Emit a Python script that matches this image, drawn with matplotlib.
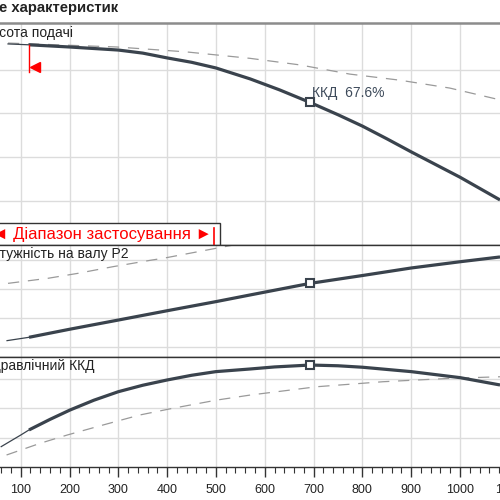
import matplotlib.pyplot as plt
from matplotlib.patches import Rectangle

plt.rcParams['font.family'] = ['Liberation Sans', 'DejaVu Sans']

# flow, m3/h
q_head = [74, 117, 200, 300, 350, 400, 450, 500, 570, 630, 693, 750, 800,
          850, 900, 950, 1000, 1082]
head = [45.9, 45.7, 45.2, 44.5, 43.8, 42.7, 41.7, 40.4, 37.9, 35.4, 32.5,
        29.7, 27.1, 24.2, 21.2, 18.3, 15.4, 10.2]
q_head_ref = [74, 297, 437, 570, 672, 774, 877, 979, 1082]
head_ref = [46.1, 45.2, 44.1, 42.6, 41.1, 39.0, 37.6, 35.8, 33.1]

q_power = [72, 117, 201, 300, 406, 500, 570, 693, 800, 900, 1000, 1082]
power = [44.6, 46.9, 52.5, 58.8, 65.6, 71.5, 76.1, 84.1, 89.5, 94.7, 99.0, 102.3]
q_power_ref = [74, 156, 217, 289, 369, 392, 535, 600]
power_ref = [84.1, 87.6, 91.0, 95.6, 100.2, 101.4, 110.5, 114.5]

q_eff = [60, 100, 117, 160, 201, 250, 300, 350, 400, 450, 500, 570, 620, 693,
         750, 800, 900, 1000, 1082]
eff = [13.9, 21.8, 25.3, 32.5, 38.9, 45.6, 51.4, 55.8, 59.4, 62.6, 65.1, 66.9,
       68.3, 69.6, 69.1, 68.1, 65.1, 61.0, 56.0]
q_eff_ref = [71, 140, 195, 269, 344, 412, 502, 570, 707, 842, 979, 1082]
eff_ref = [8.2, 16.2, 21.8, 28.7, 35.5, 40.1, 45.7, 49.1, 54.8, 58.2, 60.5, 61.6]

q_min = 117
q_max = 496
q_duty = 693
eff_duty_label = 'ККД  67.6%'

curve_color = '#3a434d'
dash_color = '#9a9a9a'
grid_color = '#dcdcdc'

fig = plt.figure(figsize=(5, 5), dpi=100)
left, width = -0.0562, 1.0738
ax1 = fig.add_axes([left, 0.511, width, 0.443])
ax2 = fig.add_axes([left, 0.2866, width, 0.2244])
ax3 = fig.add_axes([left, 0.066, width, 0.2206])

ax1.set_ylim(0, 50.69)
ax1.set_yticks([10, 20, 30, 40])
ax2.set_ylim(33.52, 110.9)
ax2.set_yticks([40, 60, 80, 100])
ax3.set_ylim(0, 75.29)
ax3.set_yticks([20, 40, 60])

for ax in (ax1, ax2, ax3):
    ax.set_xlim(0, 1100)
    ax.set_xticks(range(0, 1101, 100))
    ax.set_xticks(range(0, 1101, 20), minor=True)
    ax.grid(True, which='major', color=grid_color, linewidth=1.0)
    ax.set_axisbelow(True)
    ax.tick_params(left=False, labelleft=False)
    ax.spines['left'].set_visible(False)
    ax.spines['right'].set_visible(False)
    for s in ('top', 'bottom'):
        ax.spines[s].set_color('#333333')
        ax.spines[s].set_linewidth(1.0)

for ax in (ax1, ax2):
    ax.tick_params(axis='x', which='both', bottom=False, labelbottom=False)
ax1.spines['top'].set_color('#8c8c8c')
ax1.spines['top'].set_linewidth(1.8)

ax3.tick_params(axis='x', which='major', direction='out', length=7, width=1,
                color='#333333', labelsize=9, labelcolor='#222222', pad=5)
ax3.tick_params(axis='x', which='minor', direction='out', length=4.3, width=0.8,
                color='#333333')


def draw_curve(ax, q, v, q_ref, v_ref):
    thin_q = [a for a in q if a <= q_min]
    thin_v = [b for a, b in zip(q, v) if a <= q_min]
    thick_q = [a for a in q if a >= q_min]
    thick_v = [b for a, b in zip(q, v) if a >= q_min]
    ax.plot(q_ref, v_ref, color=dash_color, linewidth=0.9, linestyle=(0, (9, 7)))
    ax.plot(thin_q, thin_v, color=curve_color, linewidth=0.9)
    ax.plot(thick_q, thick_v, color=curve_color, linewidth=2.3,
            solid_capstyle='butt', solid_joinstyle='round')
    vd = v[q.index(q_duty)]
    ax.plot([q_duty], [vd], marker='s', markersize=5.5, markerfacecolor='white',
            markeredgecolor=curve_color, markeredgewidth=1.5, zorder=5)
    return vd


draw_curve(ax1, q_head, head, q_head_ref, head_ref)
draw_curve(ax2, q_power, power, q_power_ref, power_ref)
draw_curve(ax3, q_eff, eff, q_eff_ref, eff_ref)

hd = head[q_head.index(q_duty)]
ax1.annotate(eff_duty_label, xy=(q_duty, hd), xytext=(1, 6.5),
             textcoords='offset points', fontsize=10, color='#3d4a5a',
             ha='left', va='center')

# minimum flow marker
ax1.plot([q_min, q_min], [39.5, 45.7], color='red', linewidth=1)
ax1.plot([129], [40.6], marker='<', color='red', markersize=7)

# application range box
ax1.add_patch(Rectangle((-300, 0), 300 + 508.5, 4.92, facecolor='white',
                        edgecolor='#333333', linewidth=1, zorder=4))
ax1.plot([q_max, q_max], [0, 3.8], color='red', linewidth=1.2, zorder=5)
ax1.text(491.8, 2.4, '◄ Діапазон застосування ►', color='red', fontsize=12,
         ha='right', va='center', zorder=6)

labels = [(ax1, 'Висота подачі'), (ax2, 'Потужність на валу P2'),
          (ax3, 'Гідравлічний ККД')]
for ax, txt in labels:
    ax.annotate(txt, xy=(20.5, 1), xycoords=('data', 'axes fraction'),
                xytext=(0, -7), textcoords='offset points', fontsize=10,
                color='#222222', ha='left', va='center')

fig.text(-0.002, 1 - 8 / 500, 'е характеристик', fontsize=10.7,
         fontweight='bold', ha='left', va='center', color='#222222')

fig.savefig('out.png', dpi=100)
